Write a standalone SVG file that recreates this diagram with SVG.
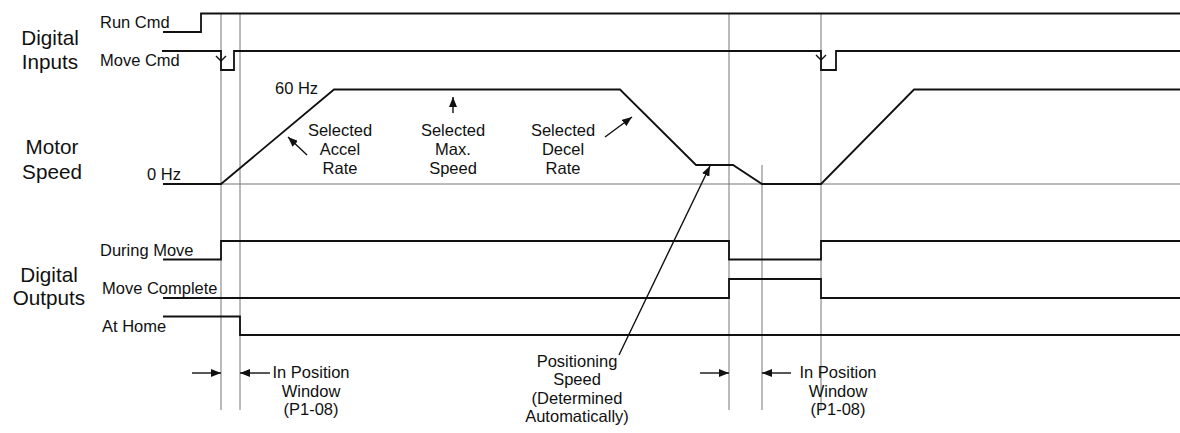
<svg xmlns="http://www.w3.org/2000/svg" width="1180" height="433" viewBox="0 0 1180 433">
<defs>
<style>
.sig{fill:none;stroke:#111;stroke-width:1.8;stroke-linejoin:miter}
.grid{fill:none;stroke:#777;stroke-width:1}
.ann{fill:none;stroke:#111;stroke-width:1.4}
.t{font-family:"Liberation Sans",Arial,sans-serif;font-size:16.5px;fill:#111}
.tc{font-family:"Liberation Sans",Arial,sans-serif;font-size:16.5px;fill:#111;text-anchor:middle}
.big{font-family:"Liberation Sans",Arial,sans-serif;font-size:20.7px;fill:#111;text-anchor:middle}
</style>
<marker id="ah" markerWidth="10" markerHeight="8" refX="10" refY="4" orient="auto" markerUnits="userSpaceOnUse">
<path d="M0,0 L10,4 L0,8 Z" fill="#111"/>
</marker>
</defs>
<rect width="1180" height="433" fill="#fff"/>

<g id="grid">
<line class="grid" x1="221" y1="13" x2="221" y2="410"/>
<line class="grid" x1="240" y1="13" x2="240" y2="410"/>
<line class="grid" x1="729" y1="13" x2="729" y2="410"/>
<line class="grid" x1="762" y1="165" x2="762" y2="410"/>
<line class="grid" x1="821" y1="13" x2="821" y2="410"/>
<line class="grid" x1="163" y1="184" x2="1180" y2="184"/>
</g>

<g id="labels">
<text class="big" x="50" y="45">Digital</text>
<text class="big" x="50" y="69">Inputs</text>
<text class="big" x="52" y="154">Motor</text>
<text class="big" x="52" y="179">Speed</text>
<text class="big" x="49" y="282">Digital</text>
<text class="big" x="49" y="305">Outputs</text>
</g>

<g id="run-cmd">
<text class="t" x="100" y="28">Run Cmd</text>
<polyline class="sig" points="163,32 201,32 201,13.5 1180,13.5"/>
</g>

<g id="move-cmd">
<text class="t" x="100" y="66">Move Cmd</text>
<polyline class="sig" points="162,51 221,51 221,70 234,70 234,51 821,51 821,70 836,70 836,51 1180,51"/>
<polyline class="ann" points="216,56 221,61 226,56"/>
<polyline class="ann" points="816,55 821,60 826,55"/>
</g>

<g id="motor-speed">
<text class="t" x="275" y="94">60 Hz</text>
<text class="t" x="147" y="180">0 Hz</text>
<polyline class="sig" points="163,184 221,184 334,89.5 620,89.5 696,165 733,165 762,184 821,184 914,89.5 1180,89.5"/>
</g>

<g id="during-move">
<text class="t" x="100" y="256">During Move</text>
<polyline class="sig" points="163,259.5 221,259.5 221,241 729,241 729,259.5 821,259.5 821,241 1180,241"/>
</g>

<g id="move-complete">
<text class="t" x="102" y="294">Move Complete</text>
<polyline class="sig" points="163,298 729,298 729,279 821,279 821,298 1180,298"/>
</g>

<g id="at-home">
<text class="t" x="102" y="332">At Home</text>
<polyline class="sig" points="163,316.5 240,316.5 240,335 1180,335"/>
</g>

<g id="accel-note">
<text class="tc" x="340" y="136">Selected</text>
<text class="tc" x="340" y="155">Accel</text>
<text class="tc" x="340" y="174">Rate</text>
</g>
<g id="max-note">
<text class="tc" x="453" y="136">Selected</text>
<text class="tc" x="453" y="155">Max.</text>
<text class="tc" x="453" y="174">Speed</text>
</g>
<g id="decel-note">
<text class="tc" x="563" y="136">Selected</text>
<text class="tc" x="563" y="155">Decel</text>
<text class="tc" x="563" y="174">Rate</text>
</g>
<g id="pos-speed-note">
<text class="tc" x="577" y="367">Positioning</text>
<text class="tc" x="577" y="385">Speed</text>
<text class="tc" x="577" y="404">(Determined</text>
<text class="tc" x="577" y="422">Automatically)</text>
</g>
<g id="window-note-1">
<text class="tc" x="311" y="378">In Position</text>
<text class="tc" x="311" y="397">Window</text>
<text class="tc" x="311" y="415">(P1-08)</text>
</g>
<g id="window-note-2">
<text class="tc" x="838" y="378">In Position</text>
<text class="tc" x="838" y="397">Window</text>
<text class="tc" x="838" y="415">(P1-08)</text>
</g>

<g id="connectors">
<line class="ann" x1="307" y1="155" x2="288" y2="137" marker-end="url(#ah)"/>
<line class="ann" x1="453" y1="113" x2="453" y2="97" marker-end="url(#ah)"/>
<line class="ann" x1="605" y1="137" x2="632" y2="117" marker-end="url(#ah)"/>
<line class="ann" x1="619" y1="355" x2="710" y2="166" marker-end="url(#ah)"/>
<line class="ann" x1="192" y1="373" x2="221" y2="373" marker-end="url(#ah)"/>
<line class="ann" x1="270" y1="373" x2="240" y2="373" marker-end="url(#ah)"/>
<line class="ann" x1="700" y1="373" x2="729" y2="373" marker-end="url(#ah)"/>
<line class="ann" x1="791" y1="373" x2="762" y2="373" marker-end="url(#ah)"/>
</g>
</svg>
